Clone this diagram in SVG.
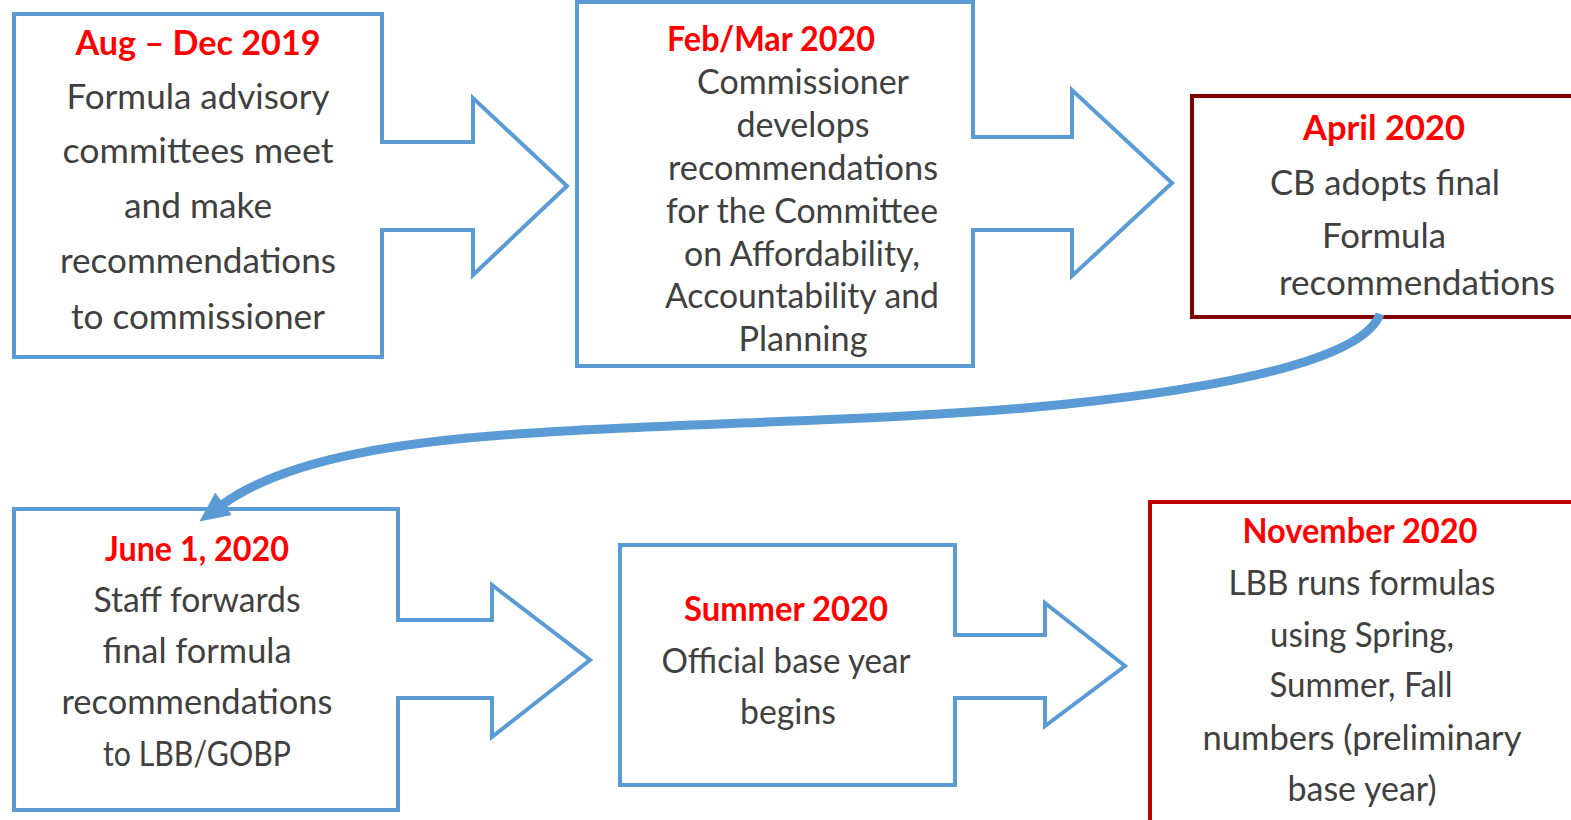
<svg xmlns="http://www.w3.org/2000/svg" width="1571" height="820" viewBox="0 0 1571 820">
<defs>
<style>
.blue{fill:#fff;stroke:#5B9BD5;stroke-width:4}
.t{font-family:Lato,"Open Sans","Liberation Sans",sans-serif;font-size:34px;text-anchor:middle}
.h{fill:#FF0000;font-weight:bold}
.b{fill:#404040}
.con{fill:none;stroke:#5B9BD5;stroke-width:9}
</style>
<marker id="ah" markerUnits="userSpaceOnUse" markerWidth="36" markerHeight="36" viewBox="0 0 36 36" refX="2" refY="18" orient="auto">
<path d="M0,4 L30,18 L0,32 Z" fill="#5B9BD5"/>
</marker>
</defs>
<rect width="1571" height="820" fill="#fff"/>
<g id="node-aug-dec-2019">
<path class="blue" d="M14,14 H382 V142 H473 V98 L567,186 L473,275 V230 H382 V357 H14 Z"/>
<text class="t h" x="198" y="55" textLength="245" lengthAdjust="spacingAndGlyphs">Aug – Dec 2019</text>
<text class="t b" x="198" y="109" textLength="263" lengthAdjust="spacingAndGlyphs">Formula advisory</text>
<text class="t b" x="198" y="163" textLength="271" lengthAdjust="spacingAndGlyphs">committees meet</text>
<text class="t b" x="198" y="218" textLength="148" lengthAdjust="spacingAndGlyphs">and make</text>
<text class="t b" x="198" y="273" textLength="276" lengthAdjust="spacingAndGlyphs">recommendations</text>
<text class="t b" x="198" y="329" textLength="254" lengthAdjust="spacingAndGlyphs">to commissioner</text>
</g>
<g id="node-feb-mar-2020">
<path class="blue" d="M577,2 H973 V137 H1072 V90 L1172,183 L1072,276 V230 H973 V366 H577 Z"/>
<text class="t h" x="771" y="51" textLength="208" lengthAdjust="spacingAndGlyphs">Feb/Mar 2020</text>
<text class="t b" x="803" y="94" textLength="212" lengthAdjust="spacingAndGlyphs">Commissioner</text>
<text class="t b" x="803" y="137" textLength="133" lengthAdjust="spacingAndGlyphs">develops</text>
<text class="t b" x="803" y="180" textLength="270" lengthAdjust="spacingAndGlyphs">recommendations</text>
<text class="t b" x="802" y="223" textLength="272" lengthAdjust="spacingAndGlyphs">for the Committee</text>
<text class="t b" x="802" y="266" textLength="236" lengthAdjust="spacingAndGlyphs">on Affordability,</text>
<text class="t b" x="802" y="308" textLength="274" lengthAdjust="spacingAndGlyphs">Accountability and</text>
<text class="t b" x="803" y="351" textLength="129" lengthAdjust="spacingAndGlyphs">Planning</text>
</g>
<g id="node-april-2020">
<rect x="1192" y="96" width="420" height="221" fill="#fff" stroke="#7F0000" stroke-width="4"/>
<text class="t h" x="1384" y="140" textLength="162" lengthAdjust="spacingAndGlyphs">April 2020</text>
<text class="t b" x="1385" y="195" textLength="230" lengthAdjust="spacingAndGlyphs">CB adopts final</text>
<text class="t b" x="1384" y="248" textLength="124" lengthAdjust="spacingAndGlyphs">Formula</text>
<text class="t b" x="1417" y="295" textLength="276" lengthAdjust="spacingAndGlyphs">recommendations</text>
</g>
<g id="node-june-2020">
<path class="blue" d="M14,509 H398 V620 H492 V585 L590,660 L492,737 V698 H398 V810 H14 Z"/>
<text class="t h" x="197" y="561" textLength="184" lengthAdjust="spacingAndGlyphs">June 1, 2020</text>
<text class="t b" x="197" y="612" textLength="207" lengthAdjust="spacingAndGlyphs">Staff forwards</text>
<text class="t b" x="197" y="663" textLength="189" lengthAdjust="spacingAndGlyphs">final formula</text>
<text class="t b" x="197" y="714" textLength="271" lengthAdjust="spacingAndGlyphs">recommendations</text>
<text class="t b" x="197" y="766" textLength="188" lengthAdjust="spacingAndGlyphs">to LBB/GOBP</text>
</g>
<g id="node-summer-2020">
<path class="blue" d="M620,545 H955 V635 H1045 V603 L1125,666 L1045,726 V698 H955 V785 H620 Z"/>
<text class="t h" x="786" y="621" textLength="204" lengthAdjust="spacingAndGlyphs">Summer 2020</text>
<text class="t b" x="786" y="673" textLength="249" lengthAdjust="spacingAndGlyphs">Official base year</text>
<text class="t b" x="788" y="724" textLength="96" lengthAdjust="spacingAndGlyphs">begins</text>
</g>
<g id="node-november-2020">
<rect x="1150" y="502" width="460" height="400" fill="#fff" stroke="#C00000" stroke-width="4"/>
<text class="t h" x="1360" y="543" textLength="235" lengthAdjust="spacingAndGlyphs">November 2020</text>
<text class="t b" x="1362" y="595" textLength="267" lengthAdjust="spacingAndGlyphs">LBB runs formulas</text>
<text class="t b" x="1362" y="647" textLength="184" lengthAdjust="spacingAndGlyphs">using Spring,</text>
<text class="t b" x="1361" y="697" textLength="183" lengthAdjust="spacingAndGlyphs">Summer, Fall</text>
<text class="t b" x="1362" y="750" textLength="319" lengthAdjust="spacingAndGlyphs">numbers (preliminary</text>
<text class="t b" x="1362" y="801" textLength="149" lengthAdjust="spacingAndGlyphs">base year)</text>
</g>
<g id="connectors">
<path class="con" marker-end="url(#ah)" d="M1380,314 C1365,355 1250,385 1067,404 C902,421 700,422 533,433 C420,440 290,455 222,505"/>
</g>
</svg>
